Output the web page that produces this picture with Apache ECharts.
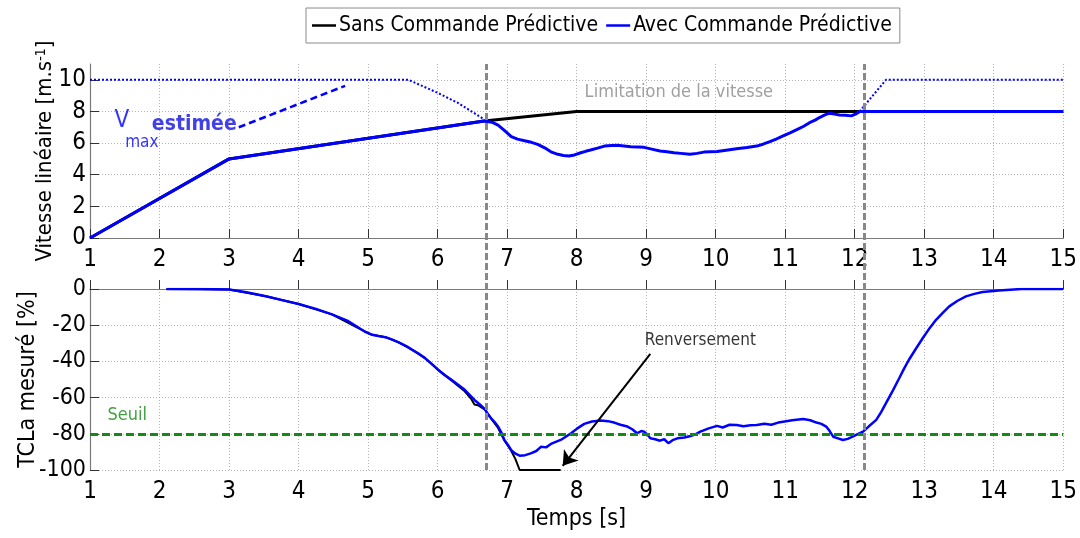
<!DOCTYPE html>
<html>
<head>
<meta charset="utf-8">
<script src="https://cdn.jsdelivr.net/npm/echarts@6/dist/echarts.min.js"></script>
<style>
  html, body { margin: 0; padding: 0; background: #fff; }
  #chart { width: 1080px; height: 538px; }
</style>
</head>
<body>
<div id="chart"></div>
<script>
// Vitesse linéaire (haut) et TCLa mesuré (bas) en fonction du temps [s]
const tempsTicks = [1, 2, 3, 4, 5, 6, 7, 8, 9, 10, 11, 12, 13, 14, 15];

// Vitesse sans commande prédictive [m/s]
const vitesseSans = [[1, 0], [3, 5], [6.67, 7.4], [8, 8], [15, 8]];

// Vitesse avec commande prédictive [m/s]
const vitesseAvec = [
  [1, 0], [3, 5], [6.67, 7.4], [6.78, 7.32], [6.87, 7.14], [6.96, 6.8], [7.06, 6.41],
  [7.15, 6.25], [7.25, 6.15], [7.35, 6.05], [7.44, 5.92], [7.54, 5.7], [7.63, 5.45],
  [7.73, 5.29], [7.81, 5.22], [7.89, 5.18], [7.97, 5.25], [8.06, 5.39], [8.13, 5.48],
  [8.2, 5.56], [8.3, 5.68], [8.4, 5.81], [8.5, 5.85], [8.59, 5.86], [8.68, 5.82],
  [8.78, 5.77], [8.88, 5.76], [8.97, 5.73], [9.08, 5.62], [9.2, 5.5], [9.3, 5.45],
  [9.4, 5.39], [9.5, 5.35], [9.63, 5.29], [9.73, 5.35], [9.83, 5.43], [9.92, 5.46],
  [10.02, 5.47], [10.15, 5.55], [10.3, 5.64], [10.45, 5.72], [10.59, 5.81], [10.68, 5.93],
  [10.78, 6.09], [10.87, 6.25], [10.97, 6.45], [11.07, 6.64], [11.16, 6.83], [11.26, 7.05],
  [11.35, 7.29], [11.43, 7.45], [11.5, 7.63], [11.57, 7.78], [11.64, 7.89], [11.71, 7.83],
  [11.78, 7.78], [11.87, 7.76], [11.95, 7.72], [12.02, 7.85], [12.07, 7.99], [15, 8]
];

// Vmax estimée [m/s] (pointillés)
const vmaxAvant = [[1, 10], [5.58, 10], [6.01, 9.16], [6.3, 8.52], [6.67, 7.5]];
const vmaxApres = [[12.07, 8], [12.45, 10], [15, 10]];

// TCLa mesuré sans commande prédictive [%]
const tclaSans = [
  [2.1, 0], [3, -0.3], [3.53, -4], [4, -8.3], [4.48, -14], [4.86, -21.6], [5.06, -25.3],
  [5.25, -26.6], [5.44, -29.5], [5.63, -33.5], [5.82, -38.2], [6.01, -44.7], [6.2, -50.5],
  [6.39, -56.5], [6.48, -60.5], [6.53, -63.8], [6.58, -64.2], [6.68, -66.6], [6.77, -71.6],
  [6.87, -76.8], [6.96, -83.6], [7.06, -89.5], [7.12, -94], [7.18, -100], [7.77, -100]
];

// TCLa mesuré avec commande prédictive [%]
const tclaAvec = [
  [2.1, 0], [2.6, 0], [3.0, -0.3], [3.25, -1.8], [3.53, -4], [3.75, -6], [4.0, -8.3],
  [4.25, -11], [4.48, -14], [4.7, -17.5], [4.86, -21.3], [4.95, -23.5], [5.06, -25.3],
  [5.15, -26], [5.25, -26.6], [5.35, -28], [5.44, -29.5], [5.55, -31.5], [5.63, -33.5],
  [5.72, -35.5], [5.82, -38.2], [5.92, -41.5], [6.01, -44.7], [6.1, -47.5], [6.2, -50.2],
  [6.3, -53], [6.39, -55.7], [6.46, -58.5], [6.53, -61.3], [6.6, -63.5], [6.68, -66.4],
  [6.72, -69], [6.77, -71.4], [6.82, -73.5], [6.87, -76], [6.92, -79.5], [6.96, -83.4],
  [7.01, -86], [7.06, -89], [7.12, -91], [7.18, -92.1], [7.26, -91.8], [7.34, -90.8],
  [7.42, -89.5], [7.49, -87.1], [7.56, -87.5], [7.63, -85.6], [7.7, -84.5], [7.77, -83.4],
  [7.85, -81.5], [7.92, -79.7], [8.01, -77], [8.11, -74.5], [8.22, -73.2], [8.35, -72.7],
  [8.45, -73], [8.54, -73.8], [8.63, -75], [8.73, -76], [8.8, -77.5], [8.87, -79.7],
  [8.93, -78.5], [8.97, -78.8], [9.02, -80.5], [9.06, -82.5], [9.13, -83], [9.2, -83.8],
  [9.26, -83], [9.32, -85.2], [9.38, -83.5], [9.45, -82.5], [9.55, -82], [9.64, -81.2],
  [9.72, -80], [9.78, -78.8], [9.9, -77], [10.02, -75.6], [10.1, -76.5], [10.2, -75],
  [10.3, -75.1], [10.4, -75.8], [10.5, -75.3], [10.59, -75.1], [10.7, -74.5], [10.8, -75],
  [10.9, -73.8], [10.97, -73.3], [11.1, -72.5], [11.26, -71.8], [11.36, -72.5], [11.45, -73.8],
  [11.52, -74.5], [11.59, -76], [11.64, -78.5], [11.69, -81.6], [11.76, -82.5], [11.83, -83.4],
  [11.9, -82.8], [11.97, -81.6], [12.05, -80], [12.12, -78.8], [12.2, -76], [12.31, -72.3],
  [12.38, -68], [12.45, -63.1], [12.55, -56], [12.64, -49.3], [12.71, -44], [12.78, -39.1],
  [12.88, -33], [12.98, -27.1], [13.08, -21.5], [13.17, -17], [13.27, -13], [13.36, -9.6],
  [13.48, -6.5], [13.6, -4.1], [13.72, -2.7], [13.84, -1.7], [14.07, -0.8], [14.4, 0], [15, 0]
];

const seuilTcla = -80;                    // seuil de renversement [%]
const instantsEvenements = [6.67, 12.08]; // début / fin de limitation [s]

const vitesseTicks = [0, 2, 4, 6, 8, 10];
const tclaTicks = [-100, -80, -60, -40, -20, 0];

const FONT = "'Liberation Sans Narrow','DejaVu Sans Condensed','Liberation Sans',sans-serif";
const BLEU = '#0000ff';
const NOIR = '#000000';
const GRIS = '#888888';
const VERT = '#138a13';

const gridLine = { show: true, lineStyle: { color: '#b4b4b4', width: 1, type: [1, 2] } };
const axisLineStyle = { show: true, lineStyle: { color: '#7a7a7a', width: 1.2 } };
const tickStyle = { show: true, inside: true, length: 9, lineStyle: { color: '#333', width: 1 } };

function xAxisDef(gridIndex) {
  return {
    type: 'value', gridIndex, min: tempsTicks[0], max: tempsTicks[tempsTicks.length - 1], interval: 1,
    axisLine: axisLineStyle, axisTick: tickStyle, splitLine: gridLine,
    axisLabel: { color: '#000', fontFamily: FONT, fontSize: 24, margin: 10 }
  };
}

const chart = echarts.init(document.getElementById('chart'), null, { renderer: 'canvas' });

chart.setOption({
  animation: false,
  backgroundColor: '#ffffff',
  textStyle: { fontFamily: FONT },
  legend: {
    data: ['Sans Commande Prédictive', 'Avec Commande Prédictive'],
    left: 306, top: 8,
    padding: [7, 8, 7, 6],
    itemGap: 8,
    itemWidth: 24, itemHeight: 2.5,
    icon: 'rect',
    borderColor: '#8a8a8a', borderWidth: 1,
    backgroundColor: '#fff',
    textStyle: { color: '#000', fontFamily: FONT, fontSize: 21, padding: [0, 0, 0, -2] }
  },
  grid: [
    { left: 90, right: 12, top: 64, height: 174 },
    { left: 90, right: 12, top: 289, height: 181 },
    { left: 90, right: 12, top: 64, bottom: 68 }
  ],
  xAxis: [
    xAxisDef(0),
    Object.assign(xAxisDef(1), {
      name: 'Temps [s]', nameLocation: 'middle', nameGap: 38,
      nameTextStyle: { color: '#000', fontFamily: FONT, fontSize: 23 }
    }),
    { type: 'value', gridIndex: 2, min: 1, max: 15, show: false }
  ],
  yAxis: [
    {
      type: 'value', gridIndex: 0, min: 0, max: 11, interval: 2,
      axisLine: axisLineStyle, axisTick: tickStyle,
      splitLine: Object.assign({}, gridLine, { showMaxLine: false }),
      axisLabel: {
        color: '#000', fontFamily: FONT, fontSize: 24, margin: 4, showMaxLabel: false,
        formatter: v => (vitesseTicks.indexOf(v) >= 0 ? String(v) : '')
      },
      name: '{t|Vitesse linéaire [m.s}{s|-1}{t|]}',
      nameLocation: 'middle', nameGap: 34, nameMoveOverlap: false,
      nameTextStyle: {
        color: '#000', fontFamily: FONT,
        rich: {
          t: { fontFamily: FONT, fontSize: 22, color: '#000' },
          s: { fontFamily: FONT, fontSize: 14, color: '#000', verticalAlign: 'top' }
        }
      }
    },
    {
      type: 'value', gridIndex: 1, min: -100, max: 0, interval: 20,
      axisLine: axisLineStyle, axisTick: tickStyle, splitLine: gridLine,
      axisLabel: {
        color: '#000', fontFamily: FONT, fontSize: 23, margin: 4,
        formatter: v => (tclaTicks.indexOf(v) >= 0 ? String(v) : '')
      },
      name: 'TCLa mesuré [%]',
      nameLocation: 'middle', nameGap: 50, nameMoveOverlap: false,
      nameTextStyle: { color: '#000', fontFamily: FONT, fontSize: 23 }
    },
    { type: 'value', gridIndex: 2, min: 0, max: 1, show: false }
  ],
  series: [
    // --- vitesse ---
    {
      name: 'Sans Commande Prédictive', type: 'line', xAxisIndex: 0, yAxisIndex: 0,
      data: vitesseSans, showSymbol: false, color: NOIR,
      lineStyle: { color: NOIR, width: 3 }, z: 3
    },
    {
      name: 'Vmax', type: 'line', xAxisIndex: 0, yAxisIndex: 0,
      data: vmaxAvant, showSymbol: false,
      lineStyle: { color: BLEU, width: 2, type: [2, 2] }, z: 3
    },
    {
      name: 'Vmax', type: 'line', xAxisIndex: 0, yAxisIndex: 0,
      data: vmaxApres, showSymbol: false,
      lineStyle: { color: BLEU, width: 2, type: [2, 2] }, z: 3
    },
    {
      name: 'Avec Commande Prédictive', type: 'line', xAxisIndex: 0, yAxisIndex: 0,
      data: vitesseAvec, showSymbol: false, color: BLEU,
      lineStyle: { color: BLEU, width: 3 }, z: 4
    },
    // annotations du graphe de vitesse
    {
      type: 'scatter', xAxisIndex: 0, yAxisIndex: 0, symbolSize: 0, silent: true, z: 6,
      data: [
        { value: [1.458, 7.4], label: { formatter: 'V', fontSize: 24, color: BLEU } },
        { value: [1.745, 6.06], label: { formatter: 'max', fontSize: 17, color: BLEU } },
        { value: [2.5, 7.15], label: { formatter: 'estimée', fontSize: 21, color: '#1010e0', fontWeight: 'bold' } },
        { value: [9.47, 9.18], label: { formatter: 'Limitation de la vitesse', fontSize: 18, color: GRIS } }
      ],
      label: { show: true, position: 'inside', fontFamily: FONT },
      markLine: {
        silent: true, symbol: ['none', 'arrow'], symbolSize: [0, 12],
        label: { show: false },
        lineStyle: { color: BLEU, width: 2.5, type: [7, 4] },
        data: [[{ coord: [3.14, 7.0] }, { coord: [4.67, 9.62] }]]
      }
    },
    // --- TCLa ---
    {
      name: 'Sans Commande Prédictive', type: 'line', xAxisIndex: 1, yAxisIndex: 1,
      data: tclaSans, showSymbol: false, color: NOIR,
      lineStyle: { color: NOIR, width: 2 }, z: 3
    },
    {
      name: 'Avec Commande Prédictive', type: 'line', xAxisIndex: 1, yAxisIndex: 1,
      data: tclaAvec, showSymbol: false, color: BLEU,
      lineStyle: { color: BLEU, width: 2.5 }, z: 4
    },
    {
      type: 'scatter', xAxisIndex: 1, yAxisIndex: 1, symbolSize: 0, silent: true, z: 6,
      data: [
        { value: [1.537, -69.6], label: { formatter: 'Seuil', fontSize: 18, color: VERT } },
        { value: [9.78, -28.6], label: { formatter: 'Renversement', fontSize: 17, color: '#000' } }
      ],
      label: { show: true, position: 'inside', fontFamily: FONT },
      markLine: {
        silent: true, symbol: 'none',
        label: { show: false },
        data: [
          { yAxis: seuilTcla, lineStyle: { color: VERT, width: 3, type: [8, 4] } },
          [
            { coord: [9.06, -35.8], symbol: 'none', lineStyle: { color: '#000', width: 2, type: 'solid' } },
            { coord: [7.8, -97.7], symbol: 'arrow', symbolSize: 14 }
          ]
        ]
      }
    },
    // --- repères temporels communs aux deux graphes ---
    {
      type: 'line', xAxisIndex: 2, yAxisIndex: 2, data: [], silent: true, z: 8,
      markLine: {
        silent: true, symbol: 'none', label: { show: false },
        lineStyle: { color: GRIS, width: 3, type: [7, 3] },
        data: instantsEvenements.map(t => ({ xAxis: t }))
      }
    }
  ]
});
</script>
</body>
</html>
